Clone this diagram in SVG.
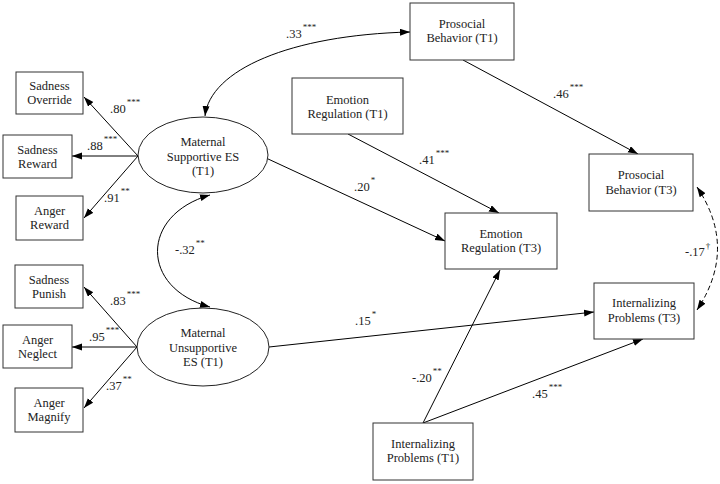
<svg xmlns="http://www.w3.org/2000/svg" width="720" height="484" viewBox="0 0 720 484" font-family="'Liberation Serif', 'Times New Roman', 'DejaVu Serif', serif">
<defs>
<marker id="ah" markerUnits="userSpaceOnUse" markerWidth="11" markerHeight="8" refX="10" refY="3.5" orient="auto-start-reverse" viewBox="0 0 11 8">
<path d="M0,0 L10,3.5 L0,7 z" fill="#000"/>
</marker>
<style>
.box{fill:#fff;stroke:#333;stroke-width:1}
.lat{fill:#fff;stroke:#222;stroke-width:1}
text{font-family:'Liberation Serif','Times New Roman','DejaVu Serif',serif}
.t{font-size:12.5px;fill:#222;text-anchor:middle}
.l{font-size:12.5px;fill:#222}
.s{font-size:9px;fill:#222}
.c{fill:none;stroke:#000;stroke-width:1}
.e{marker-end:url(#ah)}
.b{marker-start:url(#ah);marker-end:url(#ah)}
.d{stroke-dasharray:5,3}
</style>
</defs>
<rect width="720" height="484" fill="#fff"/>
<g id="connectors">
<path class="c e" d="M138,156 L84,97"/>
<path class="c e" d="M138,156 L72,156"/>
<path class="c e" d="M138,156 L84,218"/>
<path class="c e" d="M137,347 L84,287"/>
<path class="c e" d="M137,347 L72,347"/>
<path class="c e" d="M137,347 L84,408"/>
<path class="c b" d="M205,116 C210,70 290,35 410,32"/>
<path class="c b" d="M210,195 C140,215 140,288 210,307"/>
<path class="c e" d="M266,158 L445,241"/>
<path class="c e" d="M348,134 L499,213"/>
<path class="c e" d="M463,60 L638,154"/>
<path class="c e" d="M269,347 L594,312"/>
<path class="c e" d="M423,423 L500,270"/>
<path class="c e" d="M423,423 L643,339"/>
<path class="c b d" d="M697,187 Q738,248 697,310"/>
</g>
<g id="labels">
<text class="l" x="110" y="113">.80<tspan class="s" dx="1" dy="-8">***</tspan></text>
<text class="l" x="87" y="150">.88<tspan class="s" dx="1" dy="-8">***</tspan></text>
<text class="l" x="104" y="202">.91<tspan class="s" dx="1" dy="-8">**</tspan></text>
<text class="l" x="110" y="305">.83<tspan class="s" dx="1" dy="-8">***</tspan></text>
<text class="l" x="89" y="341">.95<tspan class="s" dx="1" dy="-8">***</tspan></text>
<text class="l" x="106" y="390">.37<tspan class="s" dx="1" dy="-8">**</tspan></text>
<text class="l" x="286" y="38">.33<tspan class="s" dx="1" dy="-8">***</tspan></text>
<text class="l" x="175" y="254">-.32<tspan class="s" dx="1" dy="-8">**</tspan></text>
<text class="l" x="419" y="164">.41<tspan class="s" dx="1" dy="-8">***</tspan></text>
<text class="l" x="354" y="191">.20<tspan class="s" dx="1" dy="-8">*</tspan></text>
<text class="l" x="553" y="98">.46<tspan class="s" dx="1" dy="-8">***</tspan></text>
<text class="l" x="685" y="256">-.17<tspan class="s" dx="1" dy="-7">†</tspan></text>
<text class="l" x="355" y="325">.15<tspan class="s" dx="1" dy="-8">*</tspan></text>
<text class="l" x="412" y="382">-.20<tspan class="s" dx="1" dy="-8">**</tspan></text>
<text class="l" x="532" y="398">.45<tspan class="s" dx="1" dy="-8">***</tspan></text>
</g>
<g id="sadness-override"><rect class="box" x="16" y="72" width="67" height="42"/><text class="t" x="49.5" y="90">Sadness</text><text class="t" x="49.5" y="104">Override</text></g>
<g id="sadness-reward"><rect class="box" x="3" y="135" width="69" height="43"/><text class="t" x="37.5" y="154">Sadness</text><text class="t" x="37.5" y="168">Reward</text></g>
<g id="anger-reward"><rect class="box" x="16" y="196" width="67" height="44"/><text class="t" x="49.5" y="215">Anger</text><text class="t" x="49.5" y="229">Reward</text></g>
<g id="sadness-punish"><rect class="box" x="15" y="265" width="68" height="43"/><text class="t" x="49" y="284">Sadness</text><text class="t" x="49" y="298">Punish</text></g>
<g id="anger-neglect"><rect class="box" x="3" y="325" width="69" height="43"/><text class="t" x="37.5" y="344">Anger</text><text class="t" x="37.5" y="358">Neglect</text></g>
<g id="anger-magnify"><rect class="box" x="15" y="388" width="68" height="44"/><text class="t" x="49" y="407">Anger</text><text class="t" x="49" y="421">Magnify</text></g>
<g id="maternal-supportive"><ellipse class="lat" cx="203" cy="155" rx="65" ry="38"/><text class="t" x="203" y="146">Maternal</text><text class="t" x="203" y="161">Supportive ES</text><text class="t" x="203" y="175">(T1)</text></g>
<g id="maternal-unsupportive"><ellipse class="lat" cx="203" cy="347" rx="66" ry="39"/><text class="t" x="203" y="337">Maternal</text><text class="t" x="203" y="352">Unsupportive</text><text class="t" x="203" y="366">ES (T1)</text></g>
<g id="prosocial-t1"><rect class="box" x="410" y="3" width="104" height="57"/><text class="t" x="462" y="28">Prosocial</text><text class="t" x="462" y="42">Behavior (T1)</text></g>
<g id="emotion-reg-t1"><rect class="box" x="292" y="78" width="111" height="56"/><text class="t" x="347.5" y="104">Emotion</text><text class="t" x="347.5" y="118">Regulation (T1)</text></g>
<g id="emotion-reg-t3"><rect class="box" x="445" y="213" width="112" height="56"/><text class="t" x="501" y="238">Emotion</text><text class="t" x="501" y="252">Regulation (T3)</text></g>
<g id="prosocial-t3"><rect class="box" x="589" y="154" width="104" height="57"/><text class="t" x="641" y="179">Prosocial</text><text class="t" x="641" y="194">Behavior (T3)</text></g>
<g id="internalizing-t3"><rect class="box" x="594" y="283" width="100" height="56"/><text class="t" x="644" y="307">Internalizing</text><text class="t" x="644" y="322">Problems (T3)</text></g>
<g id="internalizing-t1"><rect class="box" x="373" y="423" width="100" height="57"/><text class="t" x="423" y="448">Internalizing</text><text class="t" x="423" y="462">Problems (T1)</text></g>
</svg>
